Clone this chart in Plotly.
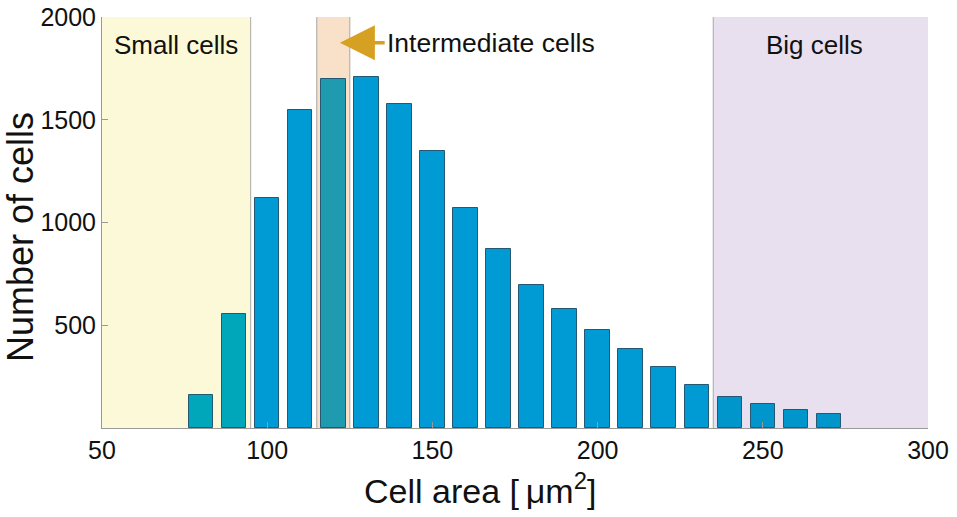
import plotly.graph_objects as go

# ---- data ----
bin_centers = [80, 90, 100, 110, 120, 130, 140, 150, 160, 170,
               180, 190, 200, 210, 220, 230, 240, 250, 260, 270]
counts = [160, 553, 1120, 1548, 1700, 1710, 1577, 1350, 1073, 873,
          695, 577, 476, 384, 296, 209, 153, 116, 88, 66]
x_ticks = [50, 100, 150, 200, 250, 300]
y_ticks = [500, 1000, 1500, 2000]

small_range = (50, 95)
inter_range = (115, 125)
big_range = (235, 300)

# ---- styles ----
def bar_color(x):
    if small_range[0] <= x <= small_range[1]:
        return "#00A6B9"
    if inter_range[0] <= x <= inter_range[1]:
        return "#1E9BAF"
    if big_range[0] <= x <= big_range[1]:
        return "#0096CC"
    return "#009BD5"

colors = [bar_color(x) for x in bin_centers]

fig = go.Figure()
fig.add_trace(go.Bar(
    x=bin_centers, y=counts, width=7.4,
    marker=dict(color=colors, line=dict(color="#245873", width=1)),
    showlegend=False,
))

YMAX = 2000
shapes = []
for (x0, x1), fill in [(small_range, "#FBF9D7"), (inter_range, "#F9E1C9"), (big_range, "#E8E0EF")]:
    shapes.append(dict(type="rect", xref="x", yref="y", x0=x0, x1=x1, y0=0, y1=YMAX,
                       fillcolor=fill, line=dict(width=0), layer="below"))
for xv in [small_range[1], inter_range[0], inter_range[1], big_range[0]]:
    shapes.append(dict(type="line", xref="x", yref="y", x0=xv, x1=xv, y0=0, y1=YMAX,
                       line=dict(color="#A8A8A8", width=1), layer="below"))

font_family = "Liberation Sans, Arial, sans-serif"
annotations = [
    dict(x=72.5, y=1865, xref="x", yref="y", text="Small cells", showarrow=False,
         font=dict(size=26, color="#111", family=font_family)),
    dict(x=265.5, y=1865, xref="x", yref="y", text="Big cells", showarrow=False,
         font=dict(size=26, color="#111", family=font_family)),
    dict(x=122.0, y=1875, xref="x", yref="y", ax=167.8, ay=1875, axref="x", ayref="y",
         text="Intermediate cells", showarrow=True, arrowhead=2, arrowsize=2.0,
         arrowwidth=3.5, arrowcolor="#D6A023", borderpad=2,
         font=dict(size=26.5, color="#111", family=font_family)),
    # axis titles
    dict(x=0.4576, y=-0.148, xref="paper", yref="paper", xanchor="center", yanchor="middle",
         text="Cell area [\u2009μm<sup>2</sup>]", showarrow=False,
         font=dict(size=34, color="#111", family=font_family)),
    dict(x=-0.0993, y=0.4647, xref="paper", yref="paper", xanchor="center", yanchor="middle",
         text="Number of cells", textangle=-90, showarrow=False,
         font=dict(size=36, color="#111", family=font_family)),
]

fig.update_layout(
    width=957, height=517,
    margin=dict(l=102, r=29, t=17, b=89, autoexpand=False),
    paper_bgcolor="white", plot_bgcolor="white",
    shapes=shapes, annotations=annotations,
    font=dict(family=font_family, color="#111"),
    bargap=0,
    xaxis=dict(range=[50, 300], tickvals=x_ticks, ticks="inside", ticklen=6,
               tickcolor="#999", showline=True, linecolor="#999", linewidth=1,
               showgrid=False, zeroline=False, tickfont=dict(size=25),
               automargin=False, ticklabeloverflow="allow"),
    yaxis=dict(range=[0, YMAX], tickvals=y_ticks, ticks="inside", ticklen=6,
               tickcolor="#999", showline=True, linecolor="#999", linewidth=1,
               showgrid=False, zeroline=False, tickfont=dict(size=25),
               automargin=False, ticklabeloverflow="allow"),
)

fig.write_html("out.html", config={"displayModeBar": False},
               post_script="document.body.style.margin='0px';document.body.style.overflow='hidden';")
